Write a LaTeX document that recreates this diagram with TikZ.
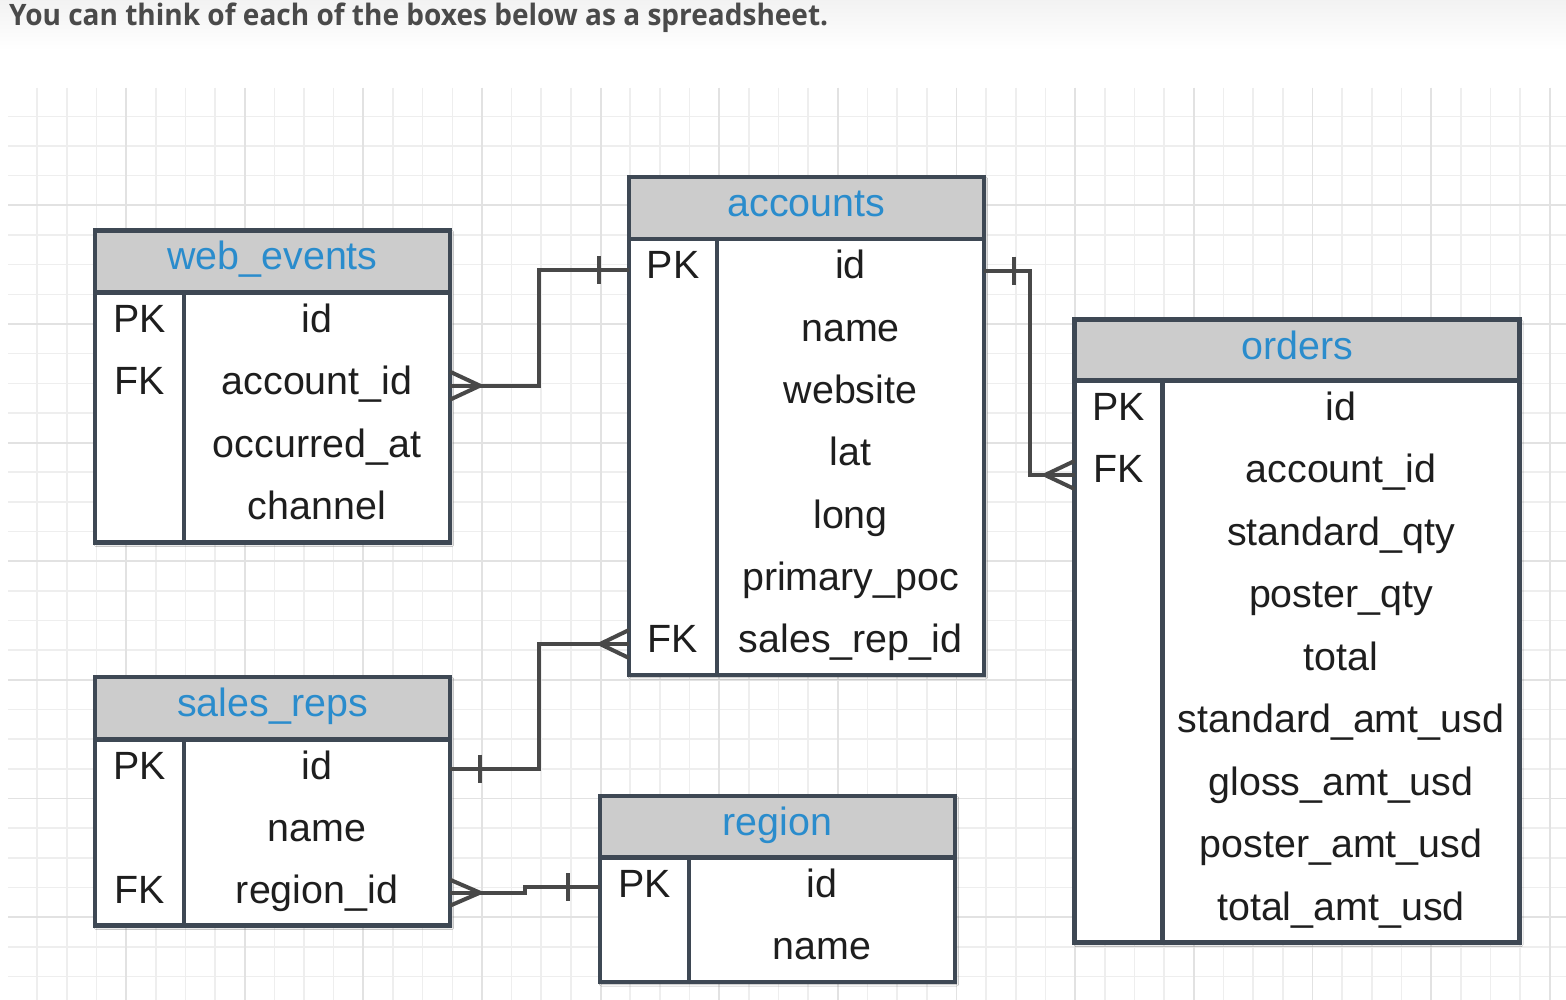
\documentclass[tikz,border=0pt]{standalone}
\usepackage{graphicx}
\usepackage{fontspec}
\setmainfont{Liberation Sans}
\newfontfamily\hdrfont{Open Sans}
\usetikzlibrary{shadows.blur}
\definecolor{gridminor}{RGB}{238,238,238}
\definecolor{gridmajor}{RGB}{226,226,226}
\definecolor{tblline}{RGB}{62,72,84}
\definecolor{tblhead}{RGB}{204,204,204}
\definecolor{tbltitle}{RGB}{42,140,204}
\definecolor{connline}{RGB}{72,72,72}
\definecolor{hdrtext}{RGB}{74,74,74}
\definecolor{fldtext}{RGB}{30,30,30}
\begin{document}
\begin{tikzpicture}[x=1pt,y=-1pt,
  tblbox/.style={draw=tblline, line width=4.5pt, fill=white, rectangle,
    inner sep=0pt, outer sep=0pt, anchor=north west,
    blur shadow={shadow xshift=1.5pt, shadow yshift=-2pt, shadow opacity=30, shadow blur steps=6}},
  tblrule/.style={draw=tblline, line width=4.5pt},
  fld/.style={anchor=base, inner sep=0pt, font=\fontsize{39.4}{47}\selectfont, text=fldtext},
  ttl/.style={fld, text=tbltitle},
  conn/.style={draw=connline, line width=4pt},
  gmin/.style={draw=gridminor, line width=1.6pt},
  gmaj/.style={draw=gridmajor, line width=1.8pt}
]
\useasboundingbox (0,0) rectangle (1566,1000);
\fill[white] (0,0) rectangle (1566,1000);
\shade[top color=black!5, bottom color=white] (0,0) rectangle (1566,50);

% grid
\foreach \i in {1,...,52} \draw[gmin] ({7.4+29.66*\i},88) -- ({7.4+29.66*\i},1000);
\foreach \j in {1,...,30} \draw[gmin] (8,{86.7+29.66*\j}) -- (1566,{86.7+29.66*\j});
\foreach \i in {4,8,...,52} \draw[gmaj] ({7.4+29.66*\i},88) -- ({7.4+29.66*\i},1000);
\foreach \j in {4,8,...,28} \draw[gmaj] (8,{86.7+29.66*\j}) -- (1566,{86.7+29.66*\j});

% header
\node[anchor=base west, inner sep=0pt, text=hdrtext, font=\hdrfont\bfseries\fontsize{29.5}{34}\selectfont] (header) at (9,25.5)
  {\resizebox{819pt}{\height}{You can think of each of the boxes below as a spreadsheet.}};

% table frames (nodes for naming)
\node[tblbox, minimum width=355pt, minimum height=312pt] (webevents) at (95,230.5) {};
\node[tblbox, minimum width=355pt, minimum height=498pt] (accounts) at (629,177) {};
\node[tblbox, minimum width=445pt, minimum height=623pt] (orders) at (1074.5,319.5) {};
\node[tblbox, minimum width=355pt, minimum height=248.5pt] (salesreps) at (95,677) {};
\node[tblbox, minimum width=355pt, minimum height=186pt] (region) at (600,796) {};

% headers fill and rules
\foreach \t/\hh/\dv in {webevents/62/89, accounts/62/88, orders/61/88, salesreps/62.5/89, region/61.5/89}{
  \fill[tblhead] (\t.north west) rectangle ([yshift=-\hh pt]\t.north east);
  \draw[tblrule] ([yshift=-\hh pt]\t.north west) -- ([yshift=-\hh pt]\t.north east);
  \draw[tblrule] ([xshift=\dv pt]\t.south west) -- ([xshift=\dv pt, yshift=-\hh pt]\t.north west);
  \draw[tblrule] (\t.north west) rectangle (\t.south east);
}

% connectors
% web_events.account_id >-- accounts.id
\draw[conn] (webevents.east |- 0,385.7) -- (539,385.7) -- (539,270.5) -- (accounts.west |- 0,270.5);
\draw[conn] (webevents.east |- 0,371.7) -- (480,385.7) -- (webevents.east |- 0,399.7);
\draw[conn] (599,256.5) -- (599,284.5);
% accounts.id --< orders.account_id
\draw[conn] (accounts.east |- 0,270.7) -- (1030,270.7) -- (1030,475) -- (orders.west |- 0,475);
\draw[conn] (1014,256.7) -- (1014,284.7);
\draw[conn] (orders.west |- 0,461) -- (1045,475) -- (orders.west |- 0,489);
% sales_reps.id --< accounts.sales_rep_id
\draw[conn] (salesreps.east |- 0,768.5) -- (539,768.5) -- (539,644) -- (accounts.west |- 0,644);
\draw[conn] (480,754.5) -- (480,782.5);
\draw[conn] (accounts.west |- 0,630) -- (600,644) -- (accounts.west |- 0,658);
% sales_reps.region_id >-- region.id
\draw[conn] (salesreps.east |- 0,892.7) -- (525,892.7) -- (525,887.3) -- (region.west |- 0,887.3);
\draw[conn] (salesreps.east |- 0,879.7) -- (480,892.7) -- (salesreps.east |- 0,905.7);
\draw[conn] (568,873.3) -- (568,901.3);

% titles
\node[ttl] (webevents-t) at (272.5,269.5) {web\_events};
\node[ttl] (accounts-t) at (806.5,216.5) {accounts};
\node[ttl] (orders-t) at (1297,359) {orders};
\node[ttl] (salesreps-t) at (272.5,716) {sales\_reps};
\node[ttl] (region-t) at (777.5,835) {region};

% web_events fields
\foreach \f [count=\i from 0] in {id,account\_id,occurred\_at,channel}
  \node[fld] (we-\i) at (317,{292.5+62.4*\i+40}) {\f};
\node[fld] (we-pk) at (139.5,332.5) {PK};
\node[fld] (we-fk) at (139.5,394.9) {FK};

% accounts fields
\foreach \f [count=\i from 0] in {id,name,website,lat,long,primary\_poc,sales\_rep\_id}
  \node[fld] (ac-\i) at (850.5,{239+62.28*\i+40}) {\f};
\node[fld] (ac-pk) at (673,279) {PK};
\node[fld] (ac-fk) at (673,652.7) {FK};

% orders fields
\foreach \f [count=\i from 0] in {id,account\_id,standard\_qty,poster\_qty,total,standard\_amt\_usd,gloss\_amt\_usd,poster\_amt\_usd,total\_amt\_usd}
  \node[fld] (or-\i) at (1341,{380.5+62.44*\i+40}) {\f};
\node[fld] (or-pk) at (1118.5,420.5) {PK};
\node[fld] (or-fk) at (1118.5,482.9) {FK};

% sales_reps fields
\foreach \f [count=\i from 0] in {id,name,region\_id}
  \node[fld] (sr-\i) at (317,{739.5+62*\i+40}) {\f};
\node[fld] (sr-pk) at (139.5,779.5) {PK};
\node[fld] (sr-fk) at (139.5,903.5) {FK};

% region fields
\foreach \f [count=\i from 0] in {id,name}
  \node[fld] (rg-\i) at (822,{857.5+62.25*\i+40}) {\f};
\node[fld] (rg-pk) at (644.5,897.5) {PK};
\end{tikzpicture}
\end{document}
